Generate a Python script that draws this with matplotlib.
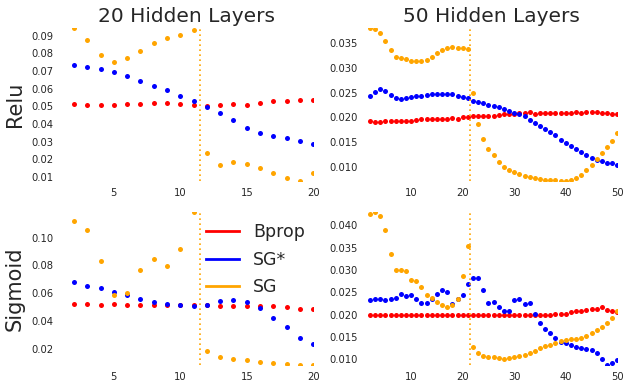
import matplotlib
matplotlib.use("Agg")
import matplotlib.pyplot as plt
from matplotlib.ticker import MultipleLocator, FormatStrFormatter
from matplotlib.lines import Line2D
import numpy as np

# ---------------- data ----------------
x20 = list(range(2, 21))
x50 = list(range(2, 51))

relu20_bprop = [0.0515, 0.0510, 0.0510, 0.0510, 0.0515, 0.0515, 0.0521, 0.0521, 0.0515, 0.0510,
                0.0504, 0.0510, 0.0515, 0.0510, 0.0521, 0.0532, 0.0532, 0.0538, 0.0538]
relu20_sgstar = [0.0732, 0.0721, 0.0710, 0.0692, 0.0670, 0.0641, 0.0618, 0.0595, 0.0561, 0.0532,
                 0.0498, 0.0464, 0.0424, 0.0378, 0.0350, 0.0332, 0.0321, 0.0304, 0.0287]
relu20_sg = [0.0944, 0.0875, 0.0790, 0.0750, 0.0772, 0.0812, 0.0858, 0.0887, 0.0904, 0.0932,
             0.0235, 0.0167, 0.0184, 0.0172, 0.0150, 0.0121, 0.0092, 0.0077, 0.0121]

relu50_bprop = [0.0192, 0.0190, 0.0190, 0.0192, 0.0192, 0.0192, 0.0192, 0.0192, 0.0192, 0.0194,
                0.0196, 0.0196, 0.0196, 0.0196, 0.0196, 0.0196, 0.0198, 0.0196, 0.0200, 0.0200,
                0.0202, 0.0202, 0.0202, 0.0202, 0.0202, 0.0204, 0.0206, 0.0206, 0.0206, 0.0208,
                0.0208, 0.0210, 0.0206, 0.0208, 0.0208, 0.0208, 0.0208, 0.0208, 0.0208, 0.0208,
                0.0210, 0.0208, 0.0210, 0.0210, 0.0210, 0.0208, 0.0208, 0.0206, 0.0206]
relu50_sgstar = [0.0243, 0.0251, 0.0257, 0.0253, 0.0245, 0.0239, 0.0237, 0.0239, 0.0241, 0.0243,
                 0.0243, 0.0245, 0.0247, 0.0247, 0.0247, 0.0247, 0.0247, 0.0243, 0.0241, 0.0239,
                 0.0234, 0.0232, 0.0230, 0.0226, 0.0222, 0.0220, 0.0216, 0.0212, 0.0208, 0.0206,
                 0.0202, 0.0194, 0.0188, 0.0182, 0.0176, 0.0170, 0.0164, 0.0155, 0.0149, 0.0143,
                 0.0137, 0.0131, 0.0125, 0.0119, 0.0115, 0.0113, 0.0109, 0.0109, 0.0105]
relu50_sg = [0.0380, 0.0378, 0.0370, 0.0354, 0.0336, 0.0322, 0.0320, 0.0318, 0.0314, 0.0314,
             0.0314, 0.0316, 0.0322, 0.0330, 0.0336, 0.0340, 0.0342, 0.0340, 0.0340, 0.0338,
             0.0249, 0.0186, 0.0157, 0.0137, 0.0125, 0.0111, 0.0101, 0.0095, 0.0091, 0.0087,
             0.0082, 0.0080, 0.0078, 0.0076, 0.0074, 0.0074, 0.0074, 0.0072, 0.0072, 0.0074,
             0.0078, 0.0084, 0.0094, 0.0105, 0.0117, 0.0129, 0.0141, 0.0153, 0.0168]

sig20_bprop = [0.0527, 0.0527, 0.0519, 0.0527, 0.0519, 0.0519, 0.0519, 0.0519, 0.0519, 0.0519,
               0.0519, 0.0512, 0.0512, 0.0512, 0.0512, 0.0512, 0.0505, 0.0491, 0.0491]
sig20_sgstar = [0.0678, 0.0656, 0.0635, 0.0613, 0.0592, 0.0563, 0.0541, 0.0527, 0.0519, 0.0512,
                0.0519, 0.0548, 0.0556, 0.0541, 0.0498, 0.0426, 0.0361, 0.0282, 0.0238]
sig20_sg = [0.1118, 0.1053, 0.0829, 0.0592, 0.0606, 0.0765, 0.0844, 0.0793, 0.0916, 0.1183,
            0.0188, 0.0145, 0.0130, 0.0123, 0.0109, 0.0101, 0.0094, 0.0087, 0.0087]

sig50_bprop = [0.0200, 0.0200, 0.0198, 0.0198, 0.0198, 0.0198, 0.0200, 0.0198, 0.0198, 0.0198,
               0.0198, 0.0198, 0.0198, 0.0198, 0.0198, 0.0198, 0.0200, 0.0200, 0.0198, 0.0198,
               0.0200, 0.0198, 0.0200, 0.0200, 0.0198, 0.0200, 0.0200, 0.0198, 0.0200, 0.0200,
               0.0200, 0.0200, 0.0198, 0.0200, 0.0200, 0.0200, 0.0202, 0.0202, 0.0202, 0.0205,
               0.0207, 0.0209, 0.0211, 0.0213, 0.0213, 0.0216, 0.0211, 0.0209, 0.0205]
sig50_sgstar = [0.0232, 0.0234, 0.0236, 0.0232, 0.0234, 0.0238, 0.0247, 0.0241, 0.0243, 0.0236,
                0.0225, 0.0227, 0.0234, 0.0247, 0.0256, 0.0250, 0.0223, 0.0234, 0.0245, 0.0268,
                0.0281, 0.0283, 0.0256, 0.0227, 0.0229, 0.0218, 0.0209, 0.0209, 0.0232, 0.0234,
                0.0223, 0.0225, 0.0202, 0.0182, 0.0168, 0.0159, 0.0148, 0.0139, 0.0137, 0.0132,
                0.0128, 0.0126, 0.0123, 0.0121, 0.0114, 0.0101, 0.0087, 0.0092, 0.0098]
sig50_sg = [0.0426, 0.0430, 0.0421, 0.0389, 0.0335, 0.0299, 0.0299, 0.0297, 0.0277, 0.0275,
            0.0261, 0.0243, 0.0238, 0.0229, 0.0222, 0.0216, 0.0222, 0.0236, 0.0286, 0.0353,
            0.0128, 0.0114, 0.0108, 0.0105, 0.0105, 0.0103, 0.0101, 0.0103, 0.0105, 0.0108,
            0.0110, 0.0114, 0.0119, 0.0126, 0.0130, 0.0132, 0.0137, 0.0141, 0.0144, 0.0146,
            0.0146, 0.0148, 0.0153, 0.0159, 0.0166, 0.0173, 0.0182, 0.0193, 0.0209]

split20 = 11.5
split50 = 21.5
col_titles = ["20 Hidden Layers", "50 Hidden Layers"]
row_labels = ["Relu", "Sigmoid"]
series_names = ["Bprop", "SG*", "SG"]
series_colors = ["#FF0000", "#0000FF", "#FFA500"]

# ---------------- figure ----------------
fig = plt.figure(figsize=(6.31, 3.86), dpi=100)
text_col = "#262626"

L = [60.7 / 631, 364.8 / 631]
W = 252.5 / 631
T = [1 - 28 / 386, 1 - 212 / 386]
H = 153 / 386

panels = [
    (0, 0, x20, [relu20_bprop, relu20_sgstar, relu20_sg], split20, 20, 0.01),
    (0, 1, x50, [relu50_bprop, relu50_sgstar, relu50_sg], split50, 50, 0.005),
    (1, 0, x20, [sig20_bprop, sig20_sgstar, sig20_sg], split20, 20, 0.02),
    (1, 1, x50, [sig50_bprop, sig50_sgstar, sig50_sg], split50, 50, 0.005),
]

axes = {}
for r, c, xs, ys_list, split, n, ystep in panels:
    ax = fig.add_axes([L[c], T[r] - H, W, H])
    axes[(r, c)] = ax
    for ys, col in zip(ys_list, series_colors):
        ax.plot(xs, ys, linestyle="none", marker="o", markersize=3.6,
                markeredgewidth=0, color=col)
    ax.axvline(split, color="#FFA500", linestyle=(0, (1, 2)), linewidth=1.2)
    allv = np.concatenate([np.asarray(v) for v in ys_list])
    ax.set_ylim(allv.min(), allv.max())
    ax.set_xlim(1, n)
    ax.yaxis.set_major_locator(MultipleLocator(ystep))
    ax.xaxis.set_major_locator(MultipleLocator(5 if n == 20 else 10))
    fmt = "%.2f" if ystep >= 0.01 else "%.3f"
    ax.yaxis.set_major_formatter(FormatStrFormatter(fmt))
    for s in ax.spines.values():
        s.set_visible(False)
    ax.tick_params(length=0, labelsize=7.2, colors=text_col, pad=5)
    if r == 0:
        ax.set_title(col_titles[c], fontsize=14.5, color=text_col, pad=4)
    if c == 0:
        ax.set_ylabel(row_labels[r], fontsize=15, color=text_col)
        ax.yaxis.set_label_coords(-0.142, 0.5)

# legend
handles = [Line2D([0], [0], color=c, linewidth=2) for c in series_colors]
leg = axes[(1, 0)].legend(handles, series_names, loc="upper right", frameon=False,
                          fontsize=12.5, bbox_to_anchor=(1.03, 1.03),
                          handlelength=1.9, labelspacing=0.55)
for t in leg.get_texts():
    t.set_color(text_col)

fig.savefig("out.png", dpi=100)
